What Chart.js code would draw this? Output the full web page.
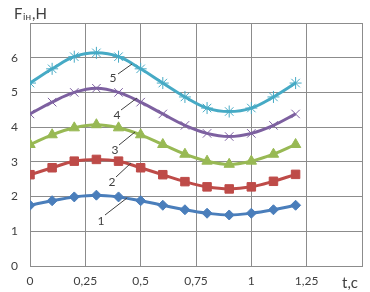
<!DOCTYPE html>
<html>
<head>
<meta charset="utf-8">
<script src="https://cdn.jsdelivr.net/npm/chart.js@4.4.1/dist/chart.umd.min.js"></script>
<style>
  html, body { margin: 0; padding: 0; background: #fff; }
  #wrap { width: 370px; height: 292px; position: relative; }
</style>
</head>
<body>
<div id="wrap"><canvas id="forceChart"></canvas></div>
<script>
// time points, s
const tValues = [0, 0.1, 0.2, 0.3, 0.4, 0.5, 0.6, 0.7, 0.8, 0.9, 1.0, 1.1, 1.2];

// inertia force, N
const series1 = [1.75, 1.88, 1.99, 2.04, 1.99, 1.88, 1.75, 1.62, 1.52, 1.47, 1.52, 1.62, 1.75];
const series2 = [2.63, 2.83, 3.02, 3.07, 3.02, 2.83, 2.63, 2.43, 2.28, 2.22, 2.28, 2.44, 2.64];
const series3 = [3.5, 3.78, 3.98, 4.07, 3.98, 3.78, 3.5, 3.22, 3.02, 2.93, 3.02, 3.22, 3.5];
const series4 = [4.38, 4.72, 5.0, 5.12, 5.0, 4.72, 4.38, 4.05, 3.82, 3.73, 3.82, 4.05, 4.38];
const series5 = [5.27, 5.68, 6.03, 6.14, 6.03, 5.68, 5.27, 4.87, 4.55, 4.45, 4.55, 4.87, 5.27];

const seriesNames = ["1", "2", "3", "4", "5"];
const xTicks = [0, 0.25, 0.5, 0.75, 1, 1.25, 1.5];
const yTicks = [0, 1, 2, 3, 4, 5, 6, 7];

const textColor = "#404040";
const gridColor = "#8c8c8c";

function toPoints(vals) {
    return vals.map((v, i) => ({ x: tValues[i], y: v }));
}

function makeSet(name, vals, color, style, radius, bw) {
    return {
        label: name,
        data: toPoints(vals),
        borderColor: color,
        backgroundColor: color,
        borderWidth: 3,
        pointStyle: style,
        pointRadius: radius,
        pointBorderWidth: bw,
        pointBorderColor: color,
        pointBackgroundColor: color,
        tension: 0.4,
        fill: false
    };
}

// leader lines with the series numbers
const curveLabels = {
    id: "curveLabels",
    afterDatasetsDraw(chart) {
        const ctx = chart.ctx;
        const marks = [
            { t: "1", tx: 101, ty: 221, x1: 105, y1: 215, x2: 127, y2: 198 },
            { t: "2", tx: 112, ty: 182, x1: 116, y1: 177, x2: 131, y2: 163 },
            { t: "3", tx: 115, ty: 150, x1: 119, y1: 145, x2: 135, y2: 132 },
            { t: "4", tx: 117, ty: 115, x1: 121, y1: 110, x2: 137, y2: 98 },
            { t: "5", tx: 113, ty: 78, x1: 118, y1: 74, x2: 132, y2: 64 }
        ];
        ctx.save();
        ctx.strokeStyle = "#404040";
        ctx.lineWidth = 1;
        ctx.fillStyle = textColor;
        ctx.font = "12px Lato, 'Open Sans', sans-serif";
        ctx.textAlign = "center";
        ctx.textBaseline = "middle";
        marks.forEach(m => {
            ctx.beginPath();
            ctx.moveTo(m.x1, m.y1);
            ctx.lineTo(m.x2, m.y2);
            ctx.stroke();
            ctx.fillText(m.t, m.tx, m.ty);
        });

        // axis titles
        ctx.textAlign = "left";
        ctx.textBaseline = "alphabetic";
        ctx.font = "15px Lato, 'Open Sans', sans-serif";
        ctx.fillText("F", 14, 19);
        ctx.font = "10px Lato, 'Open Sans', sans-serif";
        ctx.fillText("ін", 23, 20);
        ctx.font = "15px Lato, 'Open Sans', sans-serif";
        ctx.fillText(",Н", 32, 19);
        ctx.fillText("t,c", 342, 288);
        ctx.restore();
    }
};

new Chart(document.getElementById("forceChart").getContext("2d"), {
    type: "line",
    data: {
        datasets: [
            makeSet(seriesNames[0], series1, "#4a7ebb", "rectRot", 5, 1),
            makeSet(seriesNames[1], series2, "#be4b48", "rect", 6, 1),
            makeSet(seriesNames[2], series3, "#98b954", "triangle", 6, 1),
            makeSet(seriesNames[3], series4, "#7d60a0", "crossRot", 6, 1),
            makeSet(seriesNames[4], series5, "#46aac5", "star", 6, 1)
        ]
    },
    options: {
        responsive: true,
        maintainAspectRatio: false,
        animation: false,
        layout: { padding: { top: 23, right: 7, left: 0, bottom: 0 } },
        plugins: {
            legend: { display: false },
            tooltip: { enabled: false }
        },
        scales: {
            x: {
                type: "linear",
                min: 0,
                max: 1.5,
                afterFit: s => { s.height = 26; },
                afterBuildTicks: s => { s.ticks = xTicks.map(v => ({ value: v })); },
                grid: { color: gridColor, drawTicks: false },
                border: { color: gridColor },
                ticks: {
                    color: textColor,
                    padding: 8,
                    font: { family: "Lato, 'Open Sans', sans-serif", size: 12 },
                    maxRotation: 0,
                    callback: v => v === 1.5 ? "" : String(v).replace(".", ",")
                }
            },
            y: {
                min: 0,
                max: 7,
                afterFit: s => { s.width = 30; },
                afterBuildTicks: s => { s.ticks = yTicks.map(v => ({ value: v })); },
                grid: { color: gridColor, drawTicks: false },
                border: { color: gridColor },
                ticks: {
                    color: textColor,
                    padding: 12,
                    font: { family: "Lato, 'Open Sans', sans-serif", size: 12 },
                    callback: v => v === 7 ? "" : String(v)
                }
            }
        }
    },
    plugins: [curveLabels]
});
</script>
</body>
</html>
